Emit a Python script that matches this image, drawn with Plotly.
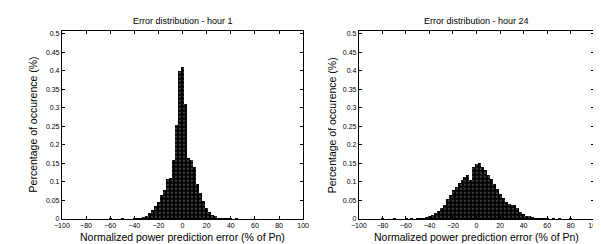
import plotly.graph_objects as go

bin_width = 2.5

# Hour 1 histogram (bin centres, % of Pn) and heights
h1_centers = [-60, -50, -40, -37.5, -35, -32.5, -30, -27.5, -25, -22.5, -20, -17.5, -15,
              -12.5, -10, -7.5, -5, -2.5, 0, 2.5, 5, 7.5, 10, 12.5, 15, 17.5, 20,
              22.5, 25, 27.5, 30, 32.5, 35, 37.5, 40, 45]
h1_values = [0.001, 0.002, 0.001, 0.002, 0.004, 0.006, 0.010, 0.016, 0.024, 0.036, 0.048,
             0.065, 0.080, 0.110, 0.112, 0.160, 0.255, 0.400, 0.412, 0.310, 0.165,
             0.160, 0.140, 0.095, 0.070, 0.050, 0.032, 0.020, 0.013, 0.008, 0.005,
             0.003, 0.002, 0.001, 0.002, 0.001]

# Hour 24 histogram
h24_centers = [-80, -70, -60, -55, -50, -47.5, -45, -42.5, -40, -37.5, -35, -32.5, -30,
               -27.5, -25, -22.5, -20, -17.5, -15, -12.5, -10, -7.5, -5, -2.5, 0,
               2.5, 5, 7.5, 10, 12.5, 15, 17.5, 20, 22.5, 25, 27.5, 30, 32.5, 35,
               37.5, 40, 42.5, 45, 47.5, 50, 52.5, 55, 57.5, 60, 65, 70, 80]
h24_values = [0.001, 0.002, 0.002, 0.002, 0.003, 0.004, 0.005, 0.007, 0.009, 0.013, 0.017,
              0.022, 0.030, 0.040, 0.055, 0.065, 0.080, 0.088, 0.097, 0.105, 0.115,
              0.120, 0.105, 0.140, 0.148, 0.152, 0.140, 0.132, 0.120, 0.110, 0.095,
              0.082, 0.068, 0.058, 0.048, 0.042, 0.040, 0.038, 0.030, 0.020, 0.014,
              0.010, 0.008, 0.006, 0.005, 0.004, 0.003, 0.003, 0.002, 0.002, 0.001, 0.002]

x_ticks = [-100, -80, -60, -40, -20, 0, 20, 40, 60, 80, 100]
y_ticks = [0, 0.05, 0.1, 0.15, 0.2, 0.25, 0.3, 0.35, 0.4, 0.45, 0.5]
y_ticklabels = ["0", "0.05", "0.1", "0.15", "0.2", "0.25", "0.3", "0.35", "0.4", "0.45", "0.5"]

titles = ["Error distribution - hour 1", "Error distribution - hour 24"]
x_title = "Normalized power prediction error (% of Pn)"
y_title = "Percentage of occurence (%)"

FONT = "Liberation Sans, Arial, sans-serif"

fig = go.Figure()

pattern = dict(shape=".", fgcolor="white", bgcolor="black", size=4, solidity=0.15)

fig.add_trace(go.Bar(x=h1_centers, y=h1_values, width=bin_width, xaxis="x", yaxis="y",
                     marker=dict(color="black", line=dict(width=0), pattern=pattern),
                     showlegend=False))
fig.add_trace(go.Bar(x=h24_centers, y=h24_values, width=bin_width, xaxis="x2", yaxis="y2",
                     marker=dict(color="black", line=dict(width=0), pattern=pattern),
                     showlegend=False))

W, H = 601, 244
ydom = [1 - 213.5 / H, 1 - 22 / H]
xdom1 = [47 / W, 294 / W]
xdom2 = [351 / W, 592 / W]

axis_common = dict(showline=True, linecolor="black", linewidth=1, mirror="allticks",
                   ticks="inside", ticklen=3, tickcolor="black", showgrid=False,
                   zeroline=False, tickfont=dict(family=FONT, size=7, color="black"))

fig.update_layout(
    width=W, height=H, margin=dict(l=0, r=0, t=0, b=0),
    paper_bgcolor="white", plot_bgcolor="white", bargap=0,
    xaxis=dict(domain=xdom1, range=[-100, 100], tickvals=x_ticks, anchor="y", **axis_common),
    yaxis=dict(domain=ydom, range=[0, 0.508], tickvals=y_ticks, ticktext=y_ticklabels,
               anchor="x", **axis_common),
    xaxis2=dict(domain=xdom2, range=[-100, 100], tickvals=x_ticks, anchor="y2", **axis_common),
    yaxis2=dict(domain=ydom, range=[0, 0.508], tickvals=y_ticks, ticktext=y_ticklabels,
                anchor="x2", **axis_common),
)

ann = []
for i, (xd) in enumerate([xdom1, xdom2]):
    cx = (xd[0] + xd[1]) / 2
    ann.append(dict(text=titles[i], x=cx, y=1 - 12 / H, xref="paper", yref="paper",
                    showarrow=False, font=dict(family=FONT, size=9, color="black"),
                    xanchor="center", yanchor="middle"))
    ann.append(dict(text=x_title, x=cx, y=1 - 232 / H, xref="paper", yref="paper",
                    showarrow=False, font=dict(family=FONT, size=10.5, color="black"),
                    xanchor="center", yanchor="middle"))
    ylx = [17 / W, 323 / W][i]
    ann.append(dict(text=y_title, x=ylx, y=(ydom[0] + ydom[1]) / 2, xref="paper", yref="paper",
                    showarrow=False, textangle=-90,
                    font=dict(family=FONT, size=10.5, color="black"),
                    xanchor="center", yanchor="middle"))
fig.update_layout(annotations=ann)

fig.write_html("out.html")
